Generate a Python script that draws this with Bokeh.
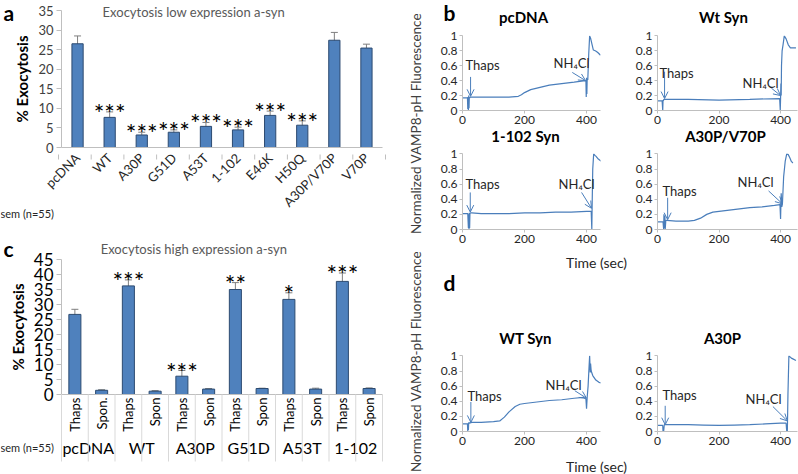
import math
from bokeh.plotting import figure
from bokeh.models import (ColumnDataSource, FactorRange, Range1d, Whisker, Label,
                          Arrow, OpenHead, FixedTicker, CustomJSTickFormatter, GridBox)
from bokeh.layouts import row, column
from bokeh.embed import file_html
from bokeh.resources import INLINE
from bokeh.core.properties import value

# ------------------------------------------------------------------ data
# Panel a: exocytosis, low expression a-syn
a_categories = ["pcDNA", "WT", "A30P", "G51D", "A53T", "1-102", "E46K", "H50Q", "A30P/V70P", "V70P"]
a_values = [26.5, 7.7, 3.2, 3.9, 5.4, 4.5, 8.2, 5.7, 27.4, 25.4]
a_errors = [2.0, 1.4, 0.7, 0.6, 1.0, 0.7, 1.1, 1.1, 2.0, 1.0]
a_stars = ["", "***", "***", "***", "***", "***", "***", "***", "", ""]

# Panel c: exocytosis, high expression a-syn
c_groups = ["pcDNA", "WT", "A30P", "G51D", "A53T", "1-102"]
c_conditions = [["Thaps", "Spon."], ["Thaps", "Spon"], ["Thaps", "Spon"],
                ["Thaps", "Spon"], ["Thaps", "Spon"], ["Thaps", "Spon"]]
c_values = [26.7, 1.4, 36.2, 1.1, 6.1, 1.8, 35.0, 2.0, 31.7, 1.8, 37.7, 2.0]
c_errors = [1.7, 0.2, 2.0, 0.2, 1.9, 0.2, 2.3, 0.1, 2.2, 0.3, 2.8, 0.2]
c_stars = ["", "", "***", "", "***", "", "**", "", "*", "", "***", ""]

# Panel b / d traces (time in s, normalized VAMP8-pH fluorescence)
pcdna_t = [0, 10, 16, 17, 18, 19, 20, 21, 22, 23, 25, 40, 100, 150, 180, 190, 200, 220, 250, 280,
           320, 360, 396, 398, 399, 400, 401, 402, 404, 407, 410, 413, 418, 422, 428, 432, 438, 445]
pcdna_v = [0.17, 0.17, 0.17, 0.02, 0.18, 0.0, 0.2, 0.03, 0.18, 0.17, 0.18, 0.18, 0.18, 0.18, 0.19,
           0.21, 0.24, 0.28, 0.31, 0.34, 0.36, 0.38, 0.40, 0.40, 0.18, 0.44, 0.22, 0.42, 0.41, 0.75,
           1.0, 0.97, 0.88, 0.81, 0.80, 0.79, 0.77, 0.74]
wt_t = [0, 15, 17, 18, 19, 21, 25, 50, 100, 200, 300, 397, 399, 400, 401, 402, 403, 405, 408,
        412, 418, 425, 432, 440, 450]
wt_v = [0.13, 0.13, 0.0, 0.14, 0.13, 0.15, 0.15, 0.15, 0.15, 0.14, 0.15, 0.16, 0.0, 0.16, 0.36,
        0.2, 0.6, 0.8, 0.88, 1.0, 0.96, 0.88, 0.84, 0.84, 0.84]
syn102_t = [0, 17, 19, 20, 21, 22, 23, 24, 26, 30, 60, 100, 150, 200, 250, 300, 350, 400, 415,
            417, 418, 420, 423, 427, 430, 436, 442, 448]
syn102_v = [0.21, 0.21, 0.02, 0.2, 0.0, 0.22, 0.02, 0.21, 0.22, 0.22, 0.21, 0.21, 0.21, 0.22, 0.22,
            0.23, 0.23, 0.24, 0.24, 0.0, 0.3, 0.8, 1.0, 0.98, 0.97, 0.94, 0.92, 0.90]
a30pv70p_t = [0, 18, 20, 21, 22, 24, 25, 27, 30, 60, 100, 120, 140, 160, 180, 220, 260, 300, 340,
              380, 398, 400, 402, 404, 406, 410, 415, 420, 425, 430, 435, 440]
a30pv70p_v = [0.10, 0.10, 0.0, 0.2, 0.02, 0.18, 0.0, 0.12, 0.12, 0.11, 0.11, 0.12, 0.15, 0.2, 0.23,
              0.25, 0.27, 0.29, 0.30, 0.32, 0.33, 0.14, 0.48, 0.3, 0.34, 0.7, 0.9, 1.0, 0.99, 0.95,
              0.90, 0.88]
wt_high_t = [0, 16, 17, 18, 19, 20, 22, 30, 60, 100, 120, 135, 150, 170, 185, 200, 240, 280, 320,
             360, 390, 398, 400, 402, 405, 408, 410, 412, 413, 415, 420, 430, 440, 450]
wt_high_v = [0.10, 0.10, 0.0, 0.11, 0.02, 0.12, 0.11, 0.12, 0.12, 0.13, 0.14, 0.19, 0.26, 0.33,
             0.36, 0.37, 0.39, 0.41, 0.42, 0.44, 0.45, 0.43, 0.30, 0.45, 0.6, 0.85, 1.0, 0.78,
             0.90, 0.80, 0.74, 0.68, 0.65, 0.64]
a30p_high_t = [0, 17, 18, 19, 20, 22, 25, 60, 100, 150, 200, 250, 300, 350, 400, 418, 420, 421,
               422, 424, 427, 430, 435, 440, 450]
a30p_high_v = [0.08, 0.08, 0.0, 0.02, 0.0, 0.09, 0.09, 0.09, 0.09, 0.085, 0.08, 0.085, 0.09, 0.10,
               0.11, 0.11, 0.0, 0.05, 0.0, 0.5, 1.0, 0.99, 0.97, 0.96, 0.94]

# event arrows (time, value of arrow start / tip)
thaps_arrow_t = [26, 23, 25, 33, 27, 25]
thaps_arrow_top = [0.45, 0.52, 0.49, 0.42, 0.39, 0.34]
thaps_arrow_tip = [0.19, 0.16, 0.23, 0.13, 0.12, 0.09]
nh4_arrow_t0 = [354, 370, 384, 361, 362, 375]
nh4_arrow_v0 = [0.51, 0.30, 0.49, 0.51, 0.54, 0.33]
nh4_arrow_t1 = [397, 400, 416, 406, 400, 422]
nh4_arrow_v1 = [0.40, 0.20, 0.28, 0.34, 0.44, 0.14]

# ------------------------------------------------------------------ style
FONT = "Lato"
BAR_FILL = "#4F81BD"
BAR_LINE = "#2C4A70"
ERR = "#7F7F7F"
TRACE = "#4A7EBB"
AX = "#BFBFBF"
PAGE_W, PAGE_H = 798, 474
STAR_SIZE = 25      # px
STAR_DROP = 1       # px: baseline below the error cap (asterisk glyph sits high)


def page_to_data(px, py, frame, xr, yr):
    fl, ft, fw, fh = frame
    return (xr[0] + (px - fl) / fw * (xr[1] - xr[0]),
            yr[0] + (ft + fh - py) / fh * (yr[1] - yr[0]))


def make_fig(w, h, lb, rb, tb, bb, xr, yr, axes=True):
    kw = {}
    if not axes:
        kw = dict(x_axis_type=None, y_axis_type=None)
    p = figure(width=w, height=h, x_range=xr, y_range=yr, title=None,
               toolbar_location=None, output_backend="svg",
               min_border_left=lb, min_border_right=rb,
               min_border_top=tb, min_border_bottom=bb, **kw)
    p.outline_line_color = None
    if axes:
        p.grid.grid_line_color = None
    return p


def style_bar_axes(p, tick_size, tick_color):
    p.yaxis.axis_line_color = AX
    p.yaxis.major_tick_line_color = AX
    p.yaxis.major_tick_out = 5
    p.yaxis.major_tick_in = 0
    p.yaxis.minor_tick_line_color = None
    p.yaxis.major_label_text_font = FONT
    p.yaxis.major_label_text_font_size = tick_size
    p.yaxis.major_label_text_color = tick_color
    p.yaxis.major_label_standoff = 3
    p.yaxis.axis_label = "% Exocytosis"
    p.yaxis.axis_label_text_font = FONT
    p.yaxis.axis_label_text_font_size = "15px"
    p.yaxis.axis_label_text_font_style = "bold"
    p.yaxis.axis_label_text_color = "black"
    p.yaxis.axis_label_standoff = 4
    p.xaxis.axis_line_color = AX
    p.xaxis.major_tick_line_color = None
    p.xaxis.major_tick_out = 0
    p.xaxis.minor_tick_line_color = None
    p.xaxis.major_label_text_font = FONT


def bar_panel(p, cats, vals, errs, stars, width, ppu):
    src = ColumnDataSource(dict(
        x=cats, val=vals,
        up=[v + e for v, e in zip(vals, errs)],
        lo=[v - e for v, e in zip(vals, errs)],
        star=stars,
        star_y=[v + e - STAR_DROP / ppu for v, e in zip(vals, errs)]))
    p.vbar(x="x", top="val", width=width, source=src, fill_color=BAR_FILL,
           line_color=BAR_LINE, line_width=1)
    w = Whisker(base="x", upper="up", lower="lo", source=src, line_color=ERR, line_width=1)
    for hd in (w.upper_head, w.lower_head):
        hd.size = 7
        hd.line_color = ERR
    p.add_layout(w)
    p.text(x="x", y="star_y", text="star", source=src, text_align="center",
           text_baseline="alphabetic", text_font=value(FONT),
           text_font_size=f"{STAR_SIZE}px", text_color="black")


# ------------------------------------------------------------------ panel a
A_FRAME = (58, 10, 327, 144)
a_yr = (0, 35)
pa = make_fig(425, 218, 58, 40, 10, 64,
              FactorRange(factors=a_categories, range_padding=0), Range1d(*a_yr))
bar_panel(pa, a_categories, a_values, a_errors, a_stars, 0.35,
          A_FRAME[3] / (a_yr[1] - a_yr[0]))
style_bar_axes(pa, "13px", "#404040")
pa.yaxis.ticker = FixedTicker(ticks=list(range(0, 36, 5)))
pa.xaxis.major_label_orientation = math.pi / 4
pa.xaxis.major_label_text_font_size = "13px"
pa.xaxis.major_label_text_color = "#262626"
pa.xaxis.major_label_standoff = 8

# ------------------------------------------------------------------ panel c
C_FRAME = (61, 259, 321, 135)
c_factors = [(g, s) for g, subs in zip(c_groups, c_conditions) for s in subs]
c_yr = (0, 45)
pc = make_fig(425, 256, 61, 43, 41, 80,
              FactorRange(factors=c_factors, factor_padding=0, group_padding=0, range_padding=0),
              Range1d(*c_yr))
bar_panel(pc, c_factors, c_values, c_errors, c_stars, 0.45,
          C_FRAME[3] / (c_yr[1] - c_yr[0]))
style_bar_axes(pc, "17px", "black")
pc.yaxis.ticker = FixedTicker(ticks=list(range(0, 46, 5)))
pc.xaxis.major_label_orientation = math.pi / 2
pc.xaxis.major_label_text_font_size = "13px"
pc.xaxis.major_label_text_color = "black"
pc.xaxis.major_label_standoff = 3
pc.xaxis.group_text_font = FONT
pc.xaxis.group_text_font_size = "16px"
pc.xaxis.group_text_color = "black"
pc.xaxis.group_text_font_style = "normal"
pc.xaxis.separator_line_alpha = 0

# ------------------------------------------------------------------ panels b / d
y_fmt = CustomJSTickFormatter(code="return String(tick)")


def trace_fig(idx, t, v, canvas_w, canvas_h, borders, frame, xmax, thaps_text, nh4_text):
    lb, rb, tb, bb = borders
    xr, yr = (0, xmax), (0, 1.005)
    p = make_fig(canvas_w, canvas_h, lb, rb, tb, bb, Range1d(*xr), Range1d(*yr))
    p.line(t, v, line_color=TRACE, line_width=1.2)
    for ax in (p.xaxis, p.yaxis):
        ax.axis_line_color = AX
        ax.major_tick_line_color = AX
        ax.major_tick_out = 3
        ax.major_tick_in = 0
        ax.minor_tick_line_color = None
        ax.major_label_text_font = FONT
        ax.major_label_text_font_size = "12px"
        ax.major_label_text_color = "#262626"
        ax.major_label_standoff = 2
    p.xaxis.ticker = FixedTicker(ticks=[0, 200, 400])
    p.yaxis.ticker = FixedTicker(ticks=[0, 0.2, 0.4, 0.6, 0.8, 1])
    p.yaxis.formatter = y_fmt
    head = dict(size=7, line_color=TRACE, line_width=1)
    p.add_layout(Arrow(x_start=thaps_arrow_t[idx], y_start=thaps_arrow_top[idx],
                       x_end=thaps_arrow_t[idx], y_end=thaps_arrow_tip[idx],
                       end=OpenHead(**head), line_color=TRACE, line_width=1))
    p.add_layout(Arrow(x_start=nh4_arrow_t0[idx], y_start=nh4_arrow_v0[idx],
                       x_end=nh4_arrow_t1[idx], y_end=nh4_arrow_v1[idx],
                       end=OpenHead(**head), line_color=TRACE, line_width=1))
    tx, ty = page_to_data(*thaps_text, frame, xr, yr)
    p.add_layout(Label(x=tx, y=ty, text="Thaps", text_font=FONT, text_font_size="13px",
                       text_color="#262626", text_align="left", text_baseline="middle"))
    nx, ny = page_to_data(*nh4_text, frame, xr, yr)
    p.add_layout(Label(x=nx, y=ny, text="NH\u2084Cl", text_font=FONT, text_font_size="13px",
                       text_color="#262626", text_align="center", text_baseline="middle"))
    return p


L_W, R_W = 190, 183
L_B, R_B = (37, 15), (42, 1)
L_XMAX, R_XMAX = 445, 455

b1 = trace_fig(0, pcdna_t, pcdna_v, L_W, 128, (*L_B, 35, 18), (462, 35, 138, 75),
               L_XMAX, (465, 64), (571, 62))
b2 = trace_fig(1, wt_t, wt_v, R_W, 128, (*R_B, 35, 18), (657, 35, 140, 75),
               R_XMAX, (659, 72), (760, 82))
b3 = trace_fig(2, syn102_t, syn102_v, L_W, 122, (*L_B, 25, 21), (462, 153, 138, 76),
               L_XMAX, (465, 183), (576, 183))
b4 = trace_fig(3, a30pv70p_t, a30pv70p_v, R_W, 122, (*R_B, 25, 21), (657, 153, 140, 76),
               R_XMAX, (662, 190), (755, 181))
d1 = trace_fig(4, wt_high_t, wt_high_v, L_W, 224, (*L_B, 105, 43), (462, 355, 138, 76),
               L_XMAX, (467, 395), (563, 384))
d2 = trace_fig(5, a30p_high_t, a30p_high_v, R_W, 224, (*R_B, 105, 43), (657, 355, 140, 76),
               R_XMAX, (662, 394), (763, 398))

# ------------------------------------------------------------------ text overlay (page px)
ov = make_fig(PAGE_W, PAGE_H, 0, 0, 0, 0, Range1d(0, PAGE_W), Range1d(0, PAGE_H), axes=False)
ov.background_fill_color = None
ov.border_fill_color = None


def otext(px, py, text, size, bold=False, color="black", align="left", angle=0):
    ov.text(x=[px], y=[PAGE_H - py], text=[text], angle=angle, text_align=align,
            text_baseline="middle", text_font=value(FONT), text_font_size=size,
            text_font_style="bold" if bold else "normal", text_color=color)


otext(3, 12, "a", "21px", bold=True)
otext(195, 11, "Exocytosis low expression  a-syn", "13px", color="#595959", align="center")
otext(0, 213, "sem (n=55)", "11px", color="#262626")
otext(3, 248, "c", "21px", bold=True)
otext(195, 248, "Exocytosis high expression  a-syn", "13px", color="#595959", align="center")
otext(0, 447, "sem (n=55)", "11px", color="#262626")
otext(443, 12, "b", "21px", bold=True)
otext(443, 282, "d", "21px", bold=True)
for (px, py, ttl) in [(523, 16, "pcDNA"), (723, 16, "Wt Syn"), (525, 135, "1-102 Syn"),
                      (725, 135, "A30P/V70P"), (525, 337, "WT Syn"), (722, 337, "A30P")]:
    otext(px, py, ttl, "15px", bold=True, align="center")
for py in (123, 361):
    otext(415, py, "Normalized VAMP8-pH Fluorescence", "13.5px", color="#404040",
          align="center", angle=math.pi / 2)
otext(596, 262, "Time (sec)", "14px", color="#262626", align="center")
otext(596, 466, "Time (sec)", "14px", color="#262626", align="center")

# category boundary marks of panels a and c (page px from frame geometry)
a_slot = A_FRAME[2] / len(a_categories)
a_bx = [A_FRAME[0] + i * a_slot for i in range(len(a_categories) + 1)]
a_base = A_FRAME[1] + A_FRAME[3]
ov.segment(x0=a_bx, y0=[PAGE_H - a_base] * len(a_bx), x1=a_bx,
           y1=[PAGE_H - a_base - 5] * len(a_bx), line_color=AX, line_width=1)
c_slot = C_FRAME[2] / len(c_factors)
c_bx = [C_FRAME[0] + i * c_slot for i in range(len(c_factors) + 1)]
c_base = C_FRAME[1] + C_FRAME[3]
ov.segment(x0=c_bx, y0=[PAGE_H - c_base] * len(c_bx), x1=c_bx,
           y1=[PAGE_H - 461] * len(c_bx), line_color="#D9D9D9", line_width=1)

left = column(pa, pc)
right = column(row(b1, b2), row(b3, b4), row(d1, d2))
layout = GridBox(children=[(left, 0, 0), (right, 0, 1), (ov, 0, 0, 1, 2)])

open("out.html", "w").write(file_html(layout, INLINE))
